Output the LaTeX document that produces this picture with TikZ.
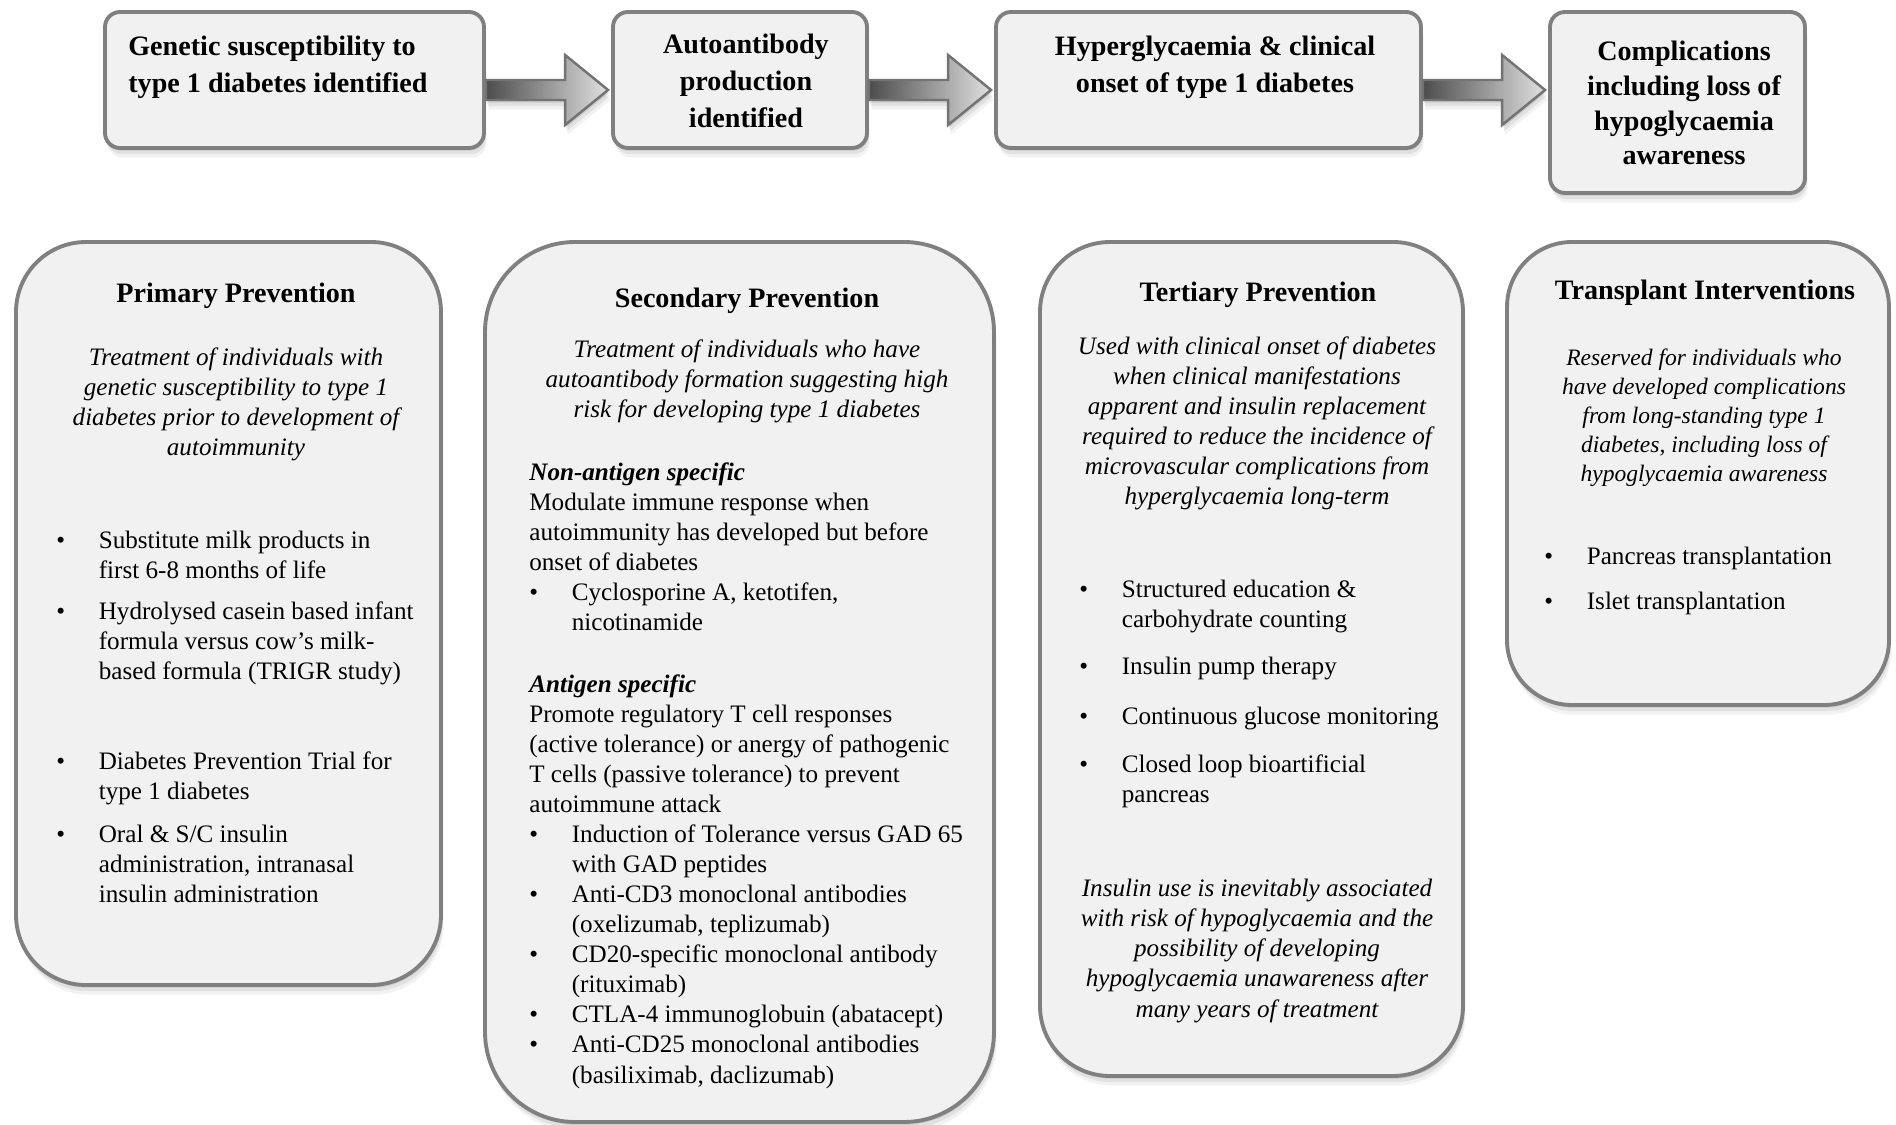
\documentclass[tikz,border=0pt]{standalone}
\usepackage{fontspec}
\setmainfont{Liberation Serif}
\usepackage{xcolor}
\usetikzlibrary{shadows, calc, positioning}

\definecolor{boxline}{RGB}{128,128,128}
\definecolor{boxfill}{RGB}{241,241,241}

\newcommand{\bul}{\makebox[0.85cm][l]{\textbullet}}
\newcommand{\cont}{\hspace*{0.85cm}}

\begin{document}
\begin{tikzpicture}[every node/.style={inner sep=0pt},
  soft/.style={drop shadow={opacity=0.10, shadow xshift=0.5pt, shadow yshift=-1.5pt, fill=black},
               drop shadow={opacity=0.07, shadow xshift=1pt, shadow yshift=-3.5pt, fill=black},
               drop shadow={opacity=0.05, shadow xshift=1.5pt, shadow yshift=-5.5pt, fill=black}},
  stage/.style={draw=boxline, line width=2.2pt, fill=boxfill, rounded corners=0.3cm, soft},
  panel/.style={draw=boxline, line width=2.2pt, fill=boxfill, soft},
  stagetxt/.style={font=\fontsize{16}{21.3}\selectfont\bfseries, align=center},
  head/.style={font=\fontsize{16}{19}\selectfont\bfseries},
  intro/.style={font=\fontsize{14.3}{17.1}\selectfont\itshape, align=center},
  body/.style={font=\fontsize{14.3}{17.1}\selectfont, align=left},
  flow/.style={draw=black!55, line width=1.4pt, left color=black!70, right color=black!12, soft}]
  \useasboundingbox (0,0) rectangle (37.92,-22.5);

  % Stages along the top (text nodes sit on the baseline of their last line)
  \node[stage, minimum width=7.58cm, minimum height=2.72cm] (gen) at (5.89,-1.6) {};
  \node[stage, minimum width=5.08cm, minimum height=2.72cm] (auto) at (14.8,-1.6) {};
  \node[stage, minimum width=8.5cm, minimum height=2.72cm] (hyper) at (24.17,-1.6) {};
  \node[stage, minimum width=5.1cm, minimum height=3.62cm] (comp) at (33.55,-2.05) {};
  \node[stagetxt, align=left, anchor=base west] (gent) at (2.56,-1.86) {Genetic susceptibility to\\type 1 diabetes identified};
  \node[stagetxt, anchor=base] (autot) at (14.92,-2.56) {Autoantibody\\production\\identified};
  \node[stagetxt, anchor=base] (hypert) at (24.3,-1.86) {Hyperglycaemia \& clinical\\onset of type 1 diabetes};
  \node[stagetxt, anchor=base, font=\fontsize{16}{19.8}\selectfont\bfseries] (compt) at (33.68,-3.3) {Complications\\including loss of\\hypoglycaemia\\awareness};

  % Block arrows between the stages
  \coordinate (s1) at (gen.east |- 0,-1.8);
  \coordinate (t1) at ($(auto.west |- 0,-1.8)+(-0.06,0)$);
  \shadedraw[flow] ($(s1)+(0,0.2)$) -- ($(t1)+(-0.86,0.2)$) -- ($(t1)+(-0.86,0.7)$) -- (t1) -- ($(t1)+(-0.86,-0.7)$) -- ($(t1)+(-0.86,-0.2)$) -- ($(s1)+(0,-0.2)$) -- cycle;
  \coordinate (s2) at (auto.east |- 0,-1.8);
  \coordinate (t2) at ($(hyper.west |- 0,-1.8)+(-0.06,0)$);
  \shadedraw[flow] ($(s2)+(0,0.2)$) -- ($(t2)+(-0.86,0.2)$) -- ($(t2)+(-0.86,0.7)$) -- (t2) -- ($(t2)+(-0.86,-0.7)$) -- ($(t2)+(-0.86,-0.2)$) -- ($(s2)+(0,-0.2)$) -- cycle;
  \coordinate (s3) at (hyper.east |- 0,-1.8);
  \coordinate (t3) at ($(comp.west |- 0,-1.8)+(-0.06,0)$);
  \shadedraw[flow] ($(s3)+(0,0.2)$) -- ($(t3)+(-0.86,0.2)$) -- ($(t3)+(-0.86,0.7)$) -- (t3) -- ($(t3)+(-0.86,-0.7)$) -- ($(t3)+(-0.86,-0.2)$) -- ($(s3)+(0,-0.2)$) -- cycle;

  % Primary prevention
  \node[panel, rounded corners=1.4cm, minimum width=8.5cm, minimum height=14.86cm] (prim) at (4.57,-12.27) {};
  \node[head, anchor=base] (primh) at (4.72,-6.06) {Primary Prevention};
  \node[intro, anchor=base] (primi) at (4.72,-9.12) {Treatment of individuals with\\genetic susceptibility to type 1\\diabetes prior to development of\\autoimmunity};
  \node[body, anchor=base west] (priml) at (1.12,-18.06) {\bul Substitute milk products in\\ \cont first 6-8 months of life\\[0.22cm]
    \bul Hydrolysed casein based infant\\ \cont formula versus cow’s milk-\\ \cont based formula (TRIGR study)\\[1.2cm]
    \bul Diabetes Prevention Trial for\\ \cont type 1 diabetes\\[0.26cm]
    \bul Oral \& S/C insulin\\ \cont administration, intranasal\\ \cont insulin administration};

  % Secondary prevention
  \node[panel, rounded corners=1.8cm, minimum width=10.18cm, minimum height=17.6cm] (sec) at (14.79,-13.64) {};
  \node[head, anchor=base] (sech) at (14.94,-6.16) {Secondary Prevention};
  \node[intro, anchor=base] (seci) at (14.94,-8.36) {Treatment of individuals who have\\autoantibody formation suggesting high\\risk for developing type 1 diabetes};
  \node[body, anchor=base west] (secl) at (10.58,-21.66) {\textbf{\textit{Non-antigen specific}}\\
    Modulate immune response when\\
    autoimmunity has developed but before\\
    onset of diabetes\\
    \bul Cyclosporine A, ketotifen,\\ \cont nicotinamide\\[0.64cm]
    \textbf{\textit{Antigen specific}}\\
    Promote regulatory T cell responses\\
    (active tolerance) or anergy of pathogenic\\
    T cells (passive tolerance) to prevent\\
    autoimmune attack\\
    \bul Induction of Tolerance versus GAD 65\\ \cont with GAD peptides\\
    \bul Anti-CD3 monoclonal antibodies\\ \cont (oxelizumab, teplizumab)\\
    \bul CD20-specific monoclonal antibody\\ \cont (rituximab)\\
    \bul CTLA-4 immunoglobuin (abatacept)\\
    \bul Anti-CD25 monoclonal antibodies\\ \cont (basiliximab, daclizumab)};

  % Tertiary prevention
  \node[panel, rounded corners=1.4cm, minimum width=8.46cm, minimum height=16.68cm] (tert) at (25.03,-13.18) {};
  \node[head, anchor=base] (terth) at (25.16,-6.04) {Tertiary Prevention};
  \node[intro, anchor=base] (terti) at (25.14,-10.1) {Used with clinical onset of diabetes\\when clinical manifestations\\apparent and insulin replacement\\required to reduce the incidence of\\microvascular complications from\\hyperglycaemia long-term};
  \node[body, anchor=base west] (tertl) at (21.58,-16.06) {\bul Structured education \&\\ \cont carbohydrate counting\\[0.34cm]
    \bul Insulin pump therapy\\[0.4cm]
    \bul Continuous glucose monitoring\\[0.36cm]
    \bul Closed loop bioartificial\\ \cont pancreas};
  \node[intro, anchor=base] (tertn) at (25.14,-20.34) {Insulin use is inevitably associated\\with risk of hypoglycaemia and the\\possibility of developing\\hypoglycaemia unawareness after\\many years of treatment};

  % Transplant interventions
  \node[panel, rounded corners=1.3cm, minimum width=7.64cm, minimum height=9.26cm] (trans) at (33.96,-9.47) {};
  \node[head, anchor=base] (transh) at (34.1,-6.0) {Transplant Interventions};
  \node[intro, anchor=base, font=\fontsize{13.4}{16.6}\selectfont\itshape] (transi) at (34.08,-9.64) {Reserved for individuals who\\have developed complications\\from long-standing type 1\\diabetes, including loss of\\hypoglycaemia awareness};
  \node[body, anchor=base west] (transl) at (30.88,-12.2) {\bul Pancreas transplantation\\[0.3cm]
    \bul Islet transplantation};
\end{tikzpicture}
\end{document}
